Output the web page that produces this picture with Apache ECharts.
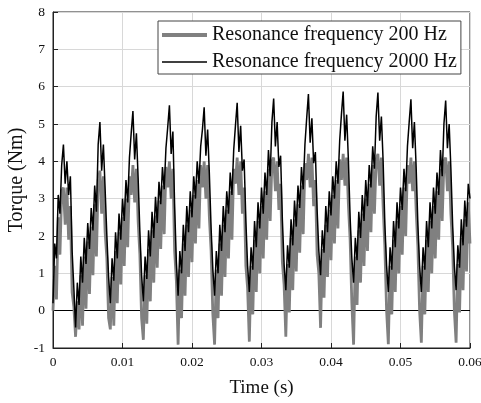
<!DOCTYPE html>
<html>
<head>
<meta charset="utf-8">
<script src="https://cdn.jsdelivr.net/npm/echarts@6/dist/echarts.min.js"></script>
<style>
  html, body { margin: 0; padding: 0; background: #fff; }
  #chart { width: 481px; height: 403px; }
</style>
</head>
<body>
<div id="chart"></div>
<script>
// series names as in the legend
const seriesNames = ['Resonance frequency 200 Hz', 'Resonance frequency 2000 Hz'];

// sampling step of the read-off values (s)
const sampleStep = 0.00025;

// axis ranges
const timeRange = [0, 0.06];
const torqueRange = [-1, 8];

// torque (Nm), resonance 200 Hz (grey), one line per torque cycle
const torque200 = [
  0.0, 1.2, 0.3, 2.5, 1.5, 3.2, 3.3, 2.3, 3.3, 1.9, 2.8, 0.5, 0.1, -0.7,
  0.25, -0.5, 0.95, -0.4, 1.45, 0.05, 1.85, 0.45, 2.25, 0.95, 2.85, 1.45, 3.5, 3.75, 2.6, 3.6, 2.1, 1.4, -0.2, -0.5,
  0.9, -0.4, 1.6, 0.2, 2.1, 0.7, 2.5, 1.2, 3.0, 1.7, 3.6, 3.1, 3.9, 2.9, 3.8, 2.4, 1.5, -0.2, -0.78,
  0.95, -0.35, 1.65, 0.25, 2.15, 0.75, 2.55, 1.15, 2.95, 1.65, 3.35, 2.05, 3.85, 3.3, 4.0, 3.0, 3.8, 1.6, 0.8, -0.91,
  1.1, -0.2, 1.8, 0.4, 2.3, 0.9, 2.7, 1.3, 3.1, 1.8, 3.5, 2.2, 3.9, 3.3, 4.0, 3.0, 3.9, 2.5, 1.6, -0.1, -0.91,
  1.1, -0.2, 1.8, 0.4, 2.3, 0.9, 2.7, 1.4, 3.2, 1.9, 3.8, 3.4, 4.1, 3.1, 4.0, 2.6, 3.3, 1.2, 0.6, -0.83,
  1.2, -0.1, 1.9, 0.5, 2.4, 1.0, 2.8, 1.4, 3.2, 1.9, 3.8, 2.4, 4.0, 4.1, 3.2, 4.0, 2.7, 3.4, 1.3, 0.7, -0.7,
  1.25, -0.05, 1.95, 0.55, 2.45, 1.05, 2.85, 1.55, 3.35, 2.05, 3.95, 3.5, 4.2, 3.3, 4.1, 2.8, 3.5, 1.5, 1.0, -0.46,
  1.65, 0.35, 2.3, 0.9, 2.7, 1.35, 3.1, 1.8, 3.5, 2.2, 4.05, 3.5, 4.2, 3.35, 4.1, 2.85, 1.9, 0.2, -0.91,
  1.45, 0.15, 2.15, 0.75, 2.6, 1.2, 3.0, 1.6, 3.4, 2.1, 3.9, 2.6, 4.05, 4.2, 3.35, 4.1, 2.8, 1.7, 0.0, -0.9,
  1.2, -0.1, 1.9, 0.5, 2.4, 1.0, 2.8, 1.5, 3.3, 2.0, 3.9, 3.4, 4.1, 3.2, 4.0, 2.7, 1.7, 0.0, -0.86,
  1.2, -0.1, 1.9, 0.5, 2.4, 1.0, 2.8, 1.4, 3.2, 1.9, 3.8, 2.4, 4.0, 4.1, 3.2, 4.0, 2.6, 1.7, 0.0, -0.86,
  1.25, -0.05, 1.95, 0.55, 2.45, 1.05, 2.9, 1.8
];

// torque (Nm), resonance 2000 Hz (black)
const torque2000 = [
  0.2, 1.8, 1.4, 3.1, 2.6, 3.9, 4.45, 3.4, 4.0, 3.1, 3.6, 1.6, 0.6, -0.45,
  0.75, 0.15, 1.45, 0.75, 1.95, 1.25, 2.35, 1.65, 2.75, 2.15, 3.35, 2.65, 4.45, 5.05, 3.75, 4.45, 3.25, 2.0, 0.9, 0.2,
  1.4, 0.8, 2.1, 1.4, 2.6, 1.9, 3.0, 2.4, 3.5, 2.9, 4.1, 4.75, 5.35, 4.05, 4.75, 3.55, 2.1, 0.95, 0.25,
  1.45, 0.85, 2.15, 1.45, 2.65, 1.95, 3.05, 2.35, 3.45, 2.85, 3.85, 3.25, 4.35, 4.9, 5.5, 4.2, 4.8, 2.8, 1.3, 0.4,
  1.6, 1.0, 2.3, 1.6, 2.8, 2.1, 3.2, 2.5, 3.6, 3.0, 4.0, 3.4, 4.4, 4.85, 5.45, 4.15, 4.85, 3.65, 2.2, 1.1, 0.4,
  1.6, 1.0, 2.3, 1.6, 2.8, 2.1, 3.2, 2.6, 3.7, 3.1, 4.3, 4.95, 5.57, 4.25, 4.95, 3.75, 4.05, 2.4, 1.2, 0.5,
  1.7, 1.1, 2.4, 1.7, 2.9, 2.2, 3.3, 2.6, 3.7, 3.1, 4.3, 3.6, 5.05, 5.68, 4.4, 5.05, 3.85, 4.15, 2.45, 1.25, 0.55,
  1.75, 1.15, 2.45, 1.75, 2.95, 2.25, 3.35, 2.75, 3.85, 3.25, 4.45, 5.15, 5.8, 4.5, 5.15, 3.95, 4.25, 2.7, 1.6, 0.95,
  2.15, 1.55, 2.8, 2.1, 3.2, 2.55, 3.6, 3.0, 4.0, 3.4, 4.55, 5.25, 5.87, 4.55, 5.25, 4.05, 2.5, 1.4, 0.75,
  1.95, 1.35, 2.65, 1.95, 3.1, 2.4, 3.5, 2.8, 3.9, 3.3, 4.4, 3.8, 5.2, 5.84, 4.55, 5.2, 4.0, 2.3, 1.2, 0.5,
  1.7, 1.1, 2.4, 1.7, 2.9, 2.2, 3.3, 2.7, 3.8, 3.2, 4.4, 5.05, 5.66, 4.35, 5.05, 3.85, 2.3, 1.2, 0.5,
  1.7, 1.1, 2.4, 1.7, 2.9, 2.2, 3.3, 2.6, 3.7, 3.1, 4.3, 3.6, 5.0, 5.63, 4.35, 5.0, 3.8, 2.3, 1.2, 0.55,
  1.75, 1.15, 2.45, 1.75, 2.95, 2.25, 3.4, 3.0
];

const serif = '"Liberation Serif", "Times New Roman", serif';

function toPairs(values) {
  return values.map((v, i) => [i * sampleStep, v]);
}

const chart = echarts.init(document.getElementById('chart'), null, { renderer: 'canvas' });

chart.setOption({
  animation: false,
  backgroundColor: '#fff',
  grid: {
    left: 53,
    right: 11,
    top: 12,
    bottom: 55,
    containLabel: false,
    outerBoundsMode: 'none',
    show: true,
    borderColor: '#222',
    borderWidth: 1,
    backgroundColor: 'transparent'
  },
  legend: {
    data: [
      { name: seriesNames[0], lineStyle: { width: 4 } },
      { name: seriesNames[1], lineStyle: { width: 1.5 } }
    ],
    orient: 'vertical',
    left: 158,
    top: 21,
    itemWidth: 45,
    itemHeight: 14,
    itemGap: 7,
    padding: [4, 4, 2, 2],
    backgroundColor: '#fff',
    borderColor: '#444',
    borderWidth: 1,
    borderRadius: 0,
    itemStyle: { opacity: 0 },
    textStyle: { fontFamily: serif, fontSize: 20, color: '#111' }
  },
  xAxis: {
    type: 'value',
    min: timeRange[0],
    max: timeRange[1],
    interval: 0.01,
    name: 'Time (s)',
    nameLocation: 'middle',
    nameGap: 31,
    nameMoveOverlap: false,
    nameTextStyle: { fontFamily: serif, fontSize: 19, color: '#111' },
    axisLine: { show: true, onZero: false, lineStyle: { color: '#222', width: 1 } },
    axisTick: { show: true, inside: true, length: 5, lineStyle: { color: '#222' } },
    axisLabel: {
      fontFamily: serif, fontSize: 13.5, color: '#111', margin: 7,
      formatter: v => String(Math.round(v * 100) / 100)
    },
    splitLine: { show: true, lineStyle: { color: '#d8d8d8', width: 1 } }
  },
  yAxis: {
    type: 'value',
    min: torqueRange[0],
    max: torqueRange[1],
    interval: 1,
    name: 'Torque (Nm)',
    nameLocation: 'middle',
    nameGap: 26,
    nameMoveOverlap: false,
    nameTextStyle: { fontFamily: serif, fontSize: 20, color: '#111' },
    axisLine: { show: true, lineStyle: { color: '#222', width: 1 } },
    axisTick: { show: true, inside: true, length: 5, lineStyle: { color: '#222' } },
    axisLabel: { fontFamily: serif, fontSize: 13.5, color: '#111', margin: 8 },
    splitLine: { show: true, lineStyle: { color: '#d8d8d8', width: 1 } }
  },
  series: [
    {
      name: seriesNames[0],
      type: 'line',
      data: toPairs(torque200),
      symbol: 'none',
      lineStyle: { color: '#808080', width: 2.8 },
      itemStyle: { color: '#808080' },
      z: 2,
      markLine: {
        silent: true,
        symbol: 'none',
        z: 1,
        label: { show: false },
        lineStyle: { color: '#000', type: 'solid', width: 1 },
        data: [{ yAxis: 0 }]
      }
    },
    {
      name: seriesNames[1],
      type: 'line',
      data: toPairs(torque2000),
      symbol: 'none',
      lineStyle: { color: '#000', width: 1.5 },
      itemStyle: { color: '#000' },
      z: 3
    }
  ]
});
</script>
</body>
</html>
